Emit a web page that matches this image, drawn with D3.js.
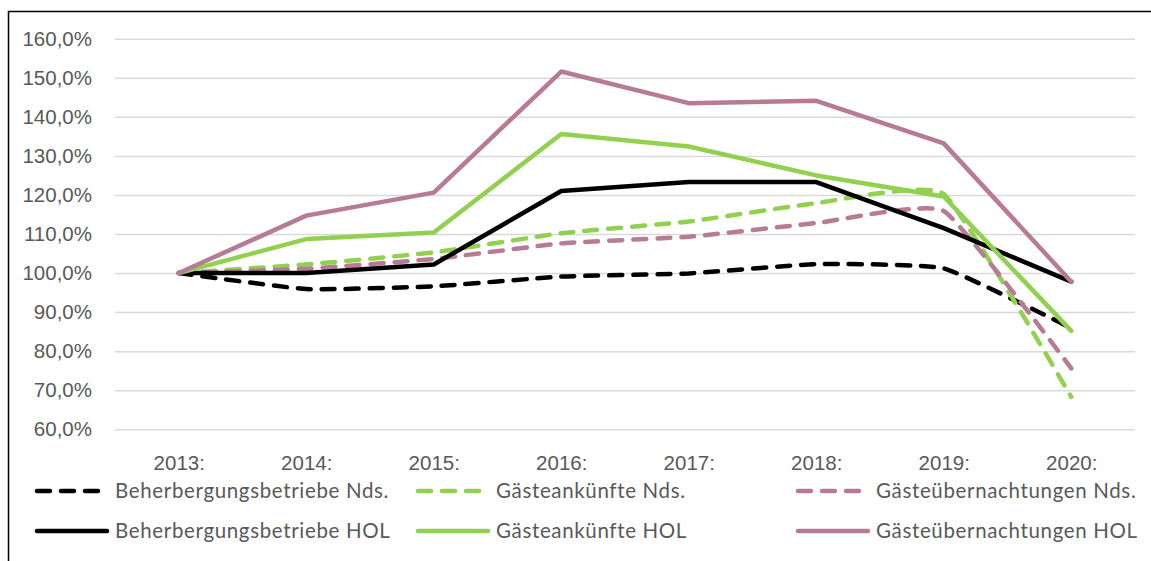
<!DOCTYPE html>
<html>
<head>
<meta charset="utf-8">
<script src="https://cdn.jsdelivr.net/npm/d3@7"></script>
<style>
  body { margin: 0; background: #fff; }
  svg { display: block; font-family: Lato, "Open Sans", sans-serif; }
  .axis text { fill: #595959; font-size: 20.5px; }
  .axis .domain { display: none; }
  .y.axis line { stroke: #d9d9d9; stroke-width: 1.5; }
  .legend text { fill: #595959; font-size: 20.5px; letter-spacing: 0.65px; }
</style>
</head>
<body>
<svg id="chart" width="1151" height="561"></svg>
<script>
// tick labels and categories
var years = ["2013:", "2014:", "2015:", "2016:", "2017:", "2018:", "2019:", "2020:"];
var yTicks = [60, 70, 80, 90, 100, 110, 120, 130, 140, 150, 160];

// index values, 2013 = 100 %
var bbNds = [100, 95.9, 96.6, 99.1, 99.9, 102.3, 101.2, 85.9];
var gaNds = [100, 102.2, 105.3, 110.2, 113.2, 117.9, 120.2, 68.3];
var guNds = [100, 101.1, 103.6, 107.6, 109.3, 112.8, 115.9, 75.6];
var bbHol = [100, 100.0, 102.2, 121.0, 123.3, 123.3, 111.5, 97.8];
var gaHol = [100, 108.7, 110.4, 135.6, 132.4, 125.0, 119.6, 85.2];
var guHol = [100, 114.7, 120.6, 151.6, 143.5, 144.1, 133.2, 97.8];

var series = [
    {name: "Beherbergungsbetriebe Nds.", values: bbNds, color: "#000000", dashed: true},
    {name: "Gästeankünfte Nds.", values: gaNds, color: "#92d050", dashed: true},
    {name: "Gästeübernachtungen Nds.", values: guNds, color: "#b77b96", dashed: true},
    {name: "Beherbergungsbetriebe HOL", values: bbHol, color: "#000000", dashed: false},
    {name: "Gästeankünfte HOL", values: gaHol, color: "#92d050", dashed: false},
    {name: "Gästeübernachtungen HOL", values: guHol, color: "#b77b96", dashed: false}
];

var svg = d3.select("#chart");
var plot = {left: 115, right: 1135, top: 38.7, bottom: 429.3};

var x = d3.scalePoint()
    .domain(years)
    .range([plot.left, plot.right])
    .padding(0.5);

var y = d3.scaleLinear()
    .domain([60, 160])
    .range([plot.bottom, plot.top]);

var de = d3.formatLocale({decimal: ",", thousands: ".", grouping: [3], currency: ["", " €"]});
var pct = de.format(".1f");

// outer frame (only top and left edge visible in the picture)
svg.append("path")
    .attr("d", "M8.5,561V11.5H1151")
    .attr("fill", "none")
    .attr("stroke", "#000")
    .attr("stroke-width", 1.5);

svg.append("g")
    .attr("class", "y axis")
    .attr("transform", "translate(" + plot.left + ",0)")
    .call(d3.axisLeft(y)
        .tickValues(yTicks)
        .tickSize(-(plot.right - plot.left))
        .tickPadding(23)
        .tickFormat(d => pct(d) + "%"));

svg.append("g")
    .attr("class", "x axis")
    .attr("transform", "translate(0," + plot.bottom + ")")
    .call(d3.axisBottom(x).tickSize(0).tickPadding(26));

var lineStraight = d3.line()
    .x((d, i) => x(years[i]))
    .y(d => y(d));

// the Nds. series are lightly smoothed
var lineSmooth = d3.line()
    .x((d, i) => x(years[i]))
    .y(d => y(d))
    .curve(d3.curveCardinal.tension(0.6));

svg.append("g")
    .selectAll("path")
    .data(series)
    .enter()
    .append("path")
    .attr("d", d => d.dashed ? lineSmooth(d.values) : lineStraight(d.values))
    .attr("fill", "none")
    .attr("stroke", d => d.color)
    .attr("stroke-width", 4.5)
    .attr("stroke-linejoin", "round")
    .attr("stroke-linecap", "round")
    .attr("stroke-dasharray", d => d.dashed ? "13,11" : null);

// legend, 3 columns x 2 rows
var legCols = [37, 418, 798];
var legRows = [491, 531];
var legend = svg.append("g").attr("class", "legend");
series.forEach(function(s, i) {
    var cx = legCols[i % 3], cy = legRows[Math.floor(i / 3)];
    var g = legend.append("g").attr("transform", "translate(" + cx + "," + cy + ")");
    g.append("line")
        .attr("x1", 0).attr("x2", s.dashed ? 64 : 70)
        .attr("y1", 0).attr("y2", 0)
        .attr("stroke", s.color)
        .attr("stroke-width", 4.5)
        .attr("stroke-linecap", "round")
        .attr("stroke-dasharray", s.dashed ? "13,11" : null);
    g.append("text")
        .attr("x", 78)
        .attr("dy", "0.35em")
        .text(s.name);
});
</script>
</body>
</html>
